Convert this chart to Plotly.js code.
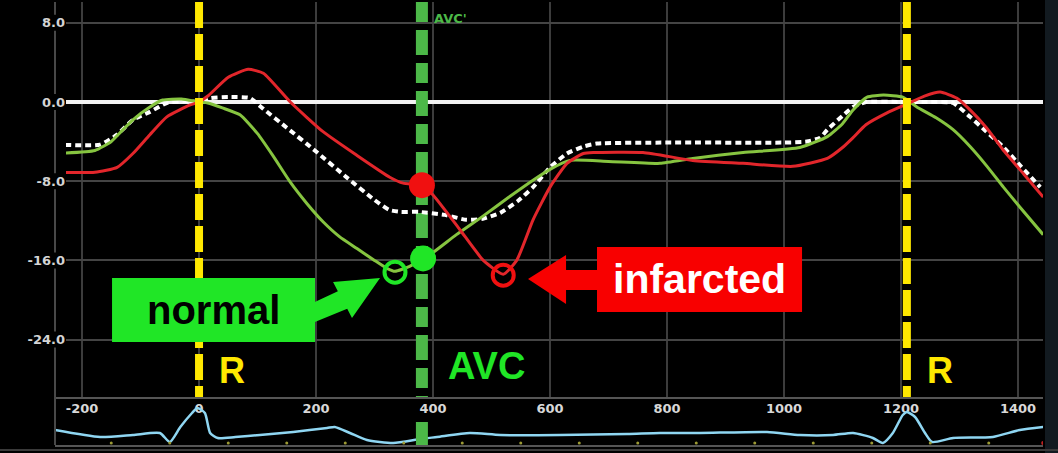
<!DOCTYPE html>
<html><head><meta charset="utf-8">
<script src="https://cdn.plot.ly/plotly-3.0.1.min.js"></script>
<style>html,body{margin:0;padding:0;background:#000;overflow:hidden}#chart{width:1058px;height:453px}</style>
</head><body><div id="chart"></div>
<script>
// ---- data (time in ms from R wave, strain in %) ----
const timesNormal = [-246,-178,-150,-135,-113,-84,-62,-30,0,15,40,70,100,126,156,185,212,240,270,300,321,335,360,383,400,440,486,530,571,600,634,700,788,844,930,1027,1074,1100,1118,1142,1170,1203,1227,1260,1289,1318,1347,1375,1403,1443];
const strainNormal = [-5.2,-4.9,-4.0,-3.1,-1.8,-0.5,0.2,0.3,0.0,-0.1,-0.6,-1.3,-3.2,-5.4,-8.1,-10.3,-12.1,-13.6,-14.8,-16.0,-16.8,-17.1,-16.6,-15.8,-15.2,-13.4,-11.5,-9.6,-7.9,-6.8,-5.9,-6.0,-6.2,-5.7,-5.1,-4.6,-3.5,-2.2,-0.8,0.5,0.7,0.5,-0.5,-1.6,-2.8,-4.5,-6.5,-8.6,-10.6,-13.4];

const timesInfarct = [-246,-178,-140,-113,-84,-55,-15,0,15,50,84,110,156,212,270,326,349,381,400,446,486,520,543,571,600,629,657,674,759,844,930,1015,1074,1100,1118,1140,1176,1210,1240,1267,1295,1318,1346,1374,1410,1443];
const strainInfarct = [-7.1,-7.1,-6.6,-5.2,-3.3,-1.5,-0.3,0.0,0.6,2.5,3.3,2.9,0.0,-3.0,-5.4,-7.6,-8.2,-8.4,-9.4,-12.9,-16.0,-17.4,-16.0,-11.9,-8.6,-6.2,-5.2,-5.1,-5.1,-5.9,-6.2,-6.5,-5.7,-4.6,-3.6,-2.3,-1.1,-0.2,0.6,1.0,0.4,-0.8,-2.6,-4.8,-7.3,-9.6];

const timesGlobal = [-246,-169,-140,-113,-84,-55,-20,0,20,50,87,110,150,200,250,300,325,345,376,420,457,485,515,545,571,600,629,657,680,800,1000,1039,1062,1074,1100,1118,1140,1200,1250,1289,1318,1346,1374,1405,1438];
const strainGlobal = [-4.3,-4.3,-3.3,-1.8,-1.0,-0.1,0.1,0.0,0.4,0.5,0.4,-0.7,-2.6,-5.0,-7.5,-9.9,-10.9,-11.1,-11.1,-11.4,-11.9,-11.8,-11.2,-10.0,-8.6,-6.6,-5.2,-4.5,-4.2,-4.1,-4.1,-4.0,-3.6,-2.8,-1.4,-0.5,0.0,0.0,0.0,-0.1,-1.5,-3.0,-4.5,-6.5,-8.6];

const ecgTimes = [-246,-169,-113,-67,-50,-32,-12,-3,10,19,32,62,104,161,219,232,258,287,332,378,407,463,515,617,732,788,856,971,1027,1084,1118,1152,1169,1186,1203,1210,1224,1241,1253,1289,1357,1403,1443];
const ecgMv = [0.28,0.0,0.08,0.16,-0.2,0.4,0.96,1.16,0.96,0.16,-0.04,0.0,0.08,0.2,0.36,0.4,0.16,-0.12,-0.24,-0.08,0.0,0.16,0.08,0.08,0.12,0.16,0.16,0.2,0.08,0.08,0.16,-0.04,-0.24,0.16,0.88,1.0,0.8,0.16,-0.2,-0.04,0.0,0.28,0.4];
const ecgTickTimes = [-250,-150,-50,50,150,250,350,450,550,650,750,850,950,1050,1150,1250,1350];
const ecgTickLevel = -0.24;
const ecgEndTime = [1443];

const rTimes = [0, 1210];
const avcTime = 381;
const normalOpen = {t:[335], v:[-17.2]};
const normalAvc = {t:[383], v:[-15.8]};
const infarctAvc = {t:[381], v:[-8.4]};
const infarctPeak = {t:[520], v:[-17.5]};

const xTickVals = [-200,0,200,400,600,800,1000,1200,1400];
const xTickText = ['-200','0','200','400','600','800','1000','1200','1400'];
const yTickVals = [8,0,-8,-16,-24];
const yTickText = ['8.0','0.0','-8.0','-16.0','-24.0'];

// ---- layout geometry ----
const W = 1058, H = 453;
const M = {l:55, r:15, t:2, b:8, pad:0};
const plotW = W - M.l - M.r, plotH = H - M.t - M.b;
const ecgFrac = 46 / plotH;
const xDomStart = 11 / plotW;
const xRange = [-227.4, 1442.7];
const x2Min = xRange[1] - (xRange[1] - xRange[0]) / (1 - xDomStart);
const yRange = [-30, 10.1];
const y2Range = [-0.32, 1.52];

const FONT = 'Liberation Sans, Arial, Helvetica, sans-serif';
const TICK_FONT = 'DejaVu Sans, Liberation Sans, sans-serif';
const GREEN_CURVE = '#86c440', RED_CURVE = '#e2262b';
const BRIGHT_GREEN = '#20e626', AVC_GREEN = '#4cb848', YELLOW = '#ffe800';

function paperY(v){ return ecgFrac + (v - yRange[0]) / (yRange[1] - yRange[0]) * (1 - ecgFrac); }

const traces = [];
traces.push({x: ecgTimes, y: ecgMv, xaxis:'x2', yaxis:'y2', mode:'lines',
  line:{color:'#8fd6f2', width:2.5, shape:'spline', smoothing:0.6}, hoverinfo:'skip'});
traces.push({x: ecgTickTimes, y: ecgTickTimes.map(()=>ecgTickLevel), xaxis:'x2', yaxis:'y2', mode:'markers',
  marker:{color:'#9c9a34', size:3}, hoverinfo:'skip'});
traces.push({x: ecgEndTime, y: [ecgTickLevel], xaxis:'x2', yaxis:'y2', mode:'markers',
  marker:{color:'#c02020', size:4}, hoverinfo:'skip'});
traces.push({x:[avcTime, avcTime], y:[0.6, y2Range[0]], xaxis:'x2', yaxis:'y2', mode:'lines',
  line:{color:AVC_GREEN, width:12, dash:'24px,8px'}, hoverinfo:'skip'});
traces.push({x:[avcTime, avcTime], y:[yRange[1], yRange[0]], mode:'lines',
  line:{color:AVC_GREEN, width:12, dash:'20px,8px,25px,8px'}, hoverinfo:'skip'});
traces.push({x: timesGlobal, y: strainGlobal, mode:'lines',
  line:{color:'#ffffff', width:4, dash:'6px,4px', shape:'spline', smoothing:0.5}, hoverinfo:'skip'});
traces.push({x: timesNormal, y: strainNormal, mode:'lines',
  line:{color:GREEN_CURVE, width:3, shape:'spline', smoothing:0.5}, hoverinfo:'skip'});
traces.push({x: timesInfarct, y: strainInfarct, mode:'lines',
  line:{color:RED_CURVE, width:3, shape:'spline', smoothing:0.5}, hoverinfo:'skip'});
rTimes.forEach(t => traces.push({x:[t,t], y:[yRange[1], yRange[0]], mode:'lines',
  line:{color:YELLOW, width:8, dash:'26px,6px'}, hoverinfo:'skip'}));
traces.push({x: normalOpen.t, y: normalOpen.v, mode:'markers',
  marker:{size:21, color:'rgba(0,0,0,0)', line:{color:BRIGHT_GREEN, width:4}}, hoverinfo:'skip'});
traces.push({x: infarctPeak.t, y: infarctPeak.v, mode:'markers',
  marker:{size:21, color:'rgba(0,0,0,0)', line:{color:'#f01010', width:4}}, hoverinfo:'skip'});
traces.push({x: normalAvc.t, y: normalAvc.v, mode:'markers',
  marker:{size:26, color:BRIGHT_GREEN}, hoverinfo:'skip'});
traces.push({x: infarctAvc.t, y: infarctAvc.v, mode:'markers',
  marker:{size:26, color:'#f01010'}, hoverinfo:'skip'});

// left border line of the plot with gaps behind the y tick labels
let segs = [], segTop = 1;
const gapP = 8 / plotH;
yTickVals.slice().sort((a,b)=>b-a).forEach(v => { const p = paperY(v); segs.push([segTop, p + gapP]); segTop = p - gapP; });
segs.push([segTop, 0]);
const borderPath = segs.map(s => `M0,${s[0]} L0,${s[1]}`).join(' ');

const shapes = [
  {type:'path', xref:'paper', yref:'paper', path: borderPath, line:{color:'#484848', width:2}},
  {type:'rect', xref:'paper', yref:'paper', x0: 1 + 2/plotW, x1: 1 + M.r/plotW, y0: -M.b/plotH, y1: 1 + M.t/plotH,
    fillcolor:'#121a20', line:{width:0}},
  {type:'line', xref:'paper', yref:'paper', x0: -M.l/plotW, x1: 1 + M.r/plotW, y0: -5/plotH, y1: -5/plotH,
    line:{color:'#3a3a3a', width:2}},
  // "normal" label box and arrow
  {type:'rect', xref:'x', yref:'y', x0:-148.7, x1:198.3, y0:-24.24, y1:-17.78, fillcolor:BRIGHT_GREEN, line:{width:0}, layer:'above'},
  {type:'path', xref:'x', yref:'y', layer:'above', fillcolor:BRIGHT_GREEN, line:{width:0},
    path:'M189.7,-20.44 L237.3,-19.11 L229.1,-18.18 L309.4,-17.78 L261.5,-21.82 L253.3,-20.89 L189.7,-22.42 Z'},
  // "infarcted" label box and arrow
  {type:'rect', xref:'x', yref:'y', x0:680.3, x1:1030.8, y0:-21.21, y1:-14.65, fillcolor:'#f80000', line:{width:0}, layer:'above'},
  {type:'path', xref:'x', yref:'y', layer:'above', fillcolor:'#f80000', line:{width:0},
    path:'M562.4,-17.88 L627.4,-15.45 L627.4,-16.97 L690,-16.97 L690,-18.99 L627.4,-18.99 L627.4,-20.40 Z'}
];

const annotations = [
  {x: avcTime + 17, y: 8.4, xref:'x', yref:'y', text:"AVC'", showarrow:false, xanchor:'left', yanchor:'middle',
    font:{family:TICK_FONT, size:13, color:AVC_GREEN, weight:700}},
  ...rTimes.map(t => ({x: t + 56, y: -27.1, xref:'x', yref:'y', text:'R', showarrow:false,
    font:{family:FONT, size:36, color:YELLOW, weight:700}})),
  {x: avcTime + 110, y: -26.7, xref:'x', yref:'y', text:'AVC', showarrow:false,
    font:{family:FONT, size:38, color:BRIGHT_GREEN, weight:700}},
  {x: 25, y: -21.0, xref:'x', yref:'y', text:'normal', showarrow:false,
    font:{family:FONT, size:40, color:'#000000', weight:700}},
  {x: 855, y: -17.9, xref:'x', yref:'y', text:'infarcted', showarrow:false,
    font:{family:FONT, size:41, color:'#ffffff', weight:700}}
];

const layout = {
  width: W, height: H, margin: M, paper_bgcolor:'#000', plot_bgcolor:'#000', showlegend:false,
  font:{family:FONT, color:'#dcdcdc'},
  xaxis:{domain:[xDomStart,1], range:xRange, anchor:'y', tickvals:xTickVals, ticktext:xTickText, ticks:'',
    showgrid:true, gridcolor:'#3c3c3c', gridwidth:2, zeroline:false, showline:false,
    tickfont:{family:TICK_FONT, size:13, color:'#d8d8d8', weight:700}},
  yaxis:{domain:[ecgFrac,1], range:yRange, anchor:'x', tickvals:yTickVals, ticktext:yTickText, ticks:'',
    showgrid:true, gridcolor:'#444444', gridwidth:2, zeroline:true, zerolinecolor:'#f2f2f2', zerolinewidth:3.5,
    showline:false, tickfont:{family:TICK_FONT, size:13, color:'#d4d4d4', weight:700}},
  xaxis2:{domain:[0,1], range:[x2Min, xRange[1]], anchor:'y2', showticklabels:false, ticks:'', showgrid:false,
    zeroline:false, showline:true, mirror:true, linecolor:'#555555', linewidth:2},
  yaxis2:{domain:[0,ecgFrac], range:y2Range, anchor:'x2', showticklabels:false, ticks:'', showgrid:false,
    zeroline:false, showline:false},
  shapes: shapes, annotations: annotations
};

Plotly.newPlot('chart', traces, layout, {displayModeBar:false, staticPlot:true});
</script></body></html>
